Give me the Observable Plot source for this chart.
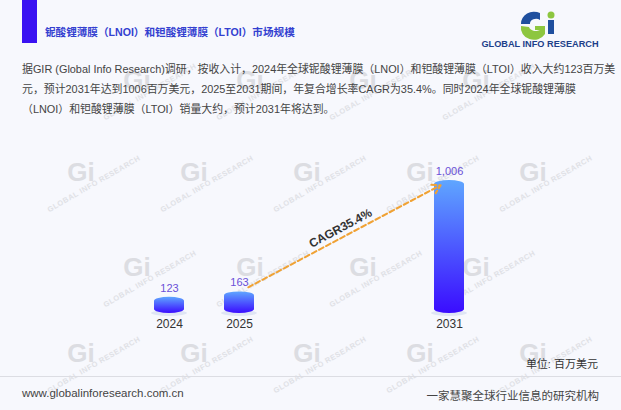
<!DOCTYPE html>
<html><head><meta charset="utf-8">
<script src="https://cdn.jsdelivr.net/npm/d3@7"></script>
<script src="https://cdn.jsdelivr.net/npm/@observablehq/plot@0.6"></script>
<style>
body{margin:0;background:#f7f8fd;width:621px;height:410px;overflow:hidden;position:relative;font-family:"Liberation Sans","Noto Sans CJK SC",sans-serif;}
.abs{position:absolute;white-space:nowrap;}
.para{left:22px;font-size:10.9px;color:#444;}
</style></head><body>
<svg id="wm" class="abs" style="left:0;top:0" width="621" height="410"></svg>
<div class="abs" style="left:22px;top:0;width:15px;height:43px;background:#3a12f2"></div>
<div class="abs" style="left:45px;top:24px;font-size:10.6px;font-weight:bold;color:#3340d0">铌酸锂薄膜（LNOI）和钽酸锂薄膜（LTOI）市场规模</div>
<svg class="abs" style="left:478px;top:4px" width="125" height="46" viewBox="0 0 125 46">
  <path d="M62 9 A13 12 0 0 0 43 20 L52 20 A6 5 0 0 1 62 16 Z" fill="#1f4f9e"/>
  <path d="M43 22 A13 12 0 0 0 67 30 L67 22 L57 22 L57 26 L62 26 A7 5 0 0 1 51 23 Z" fill="#8dc63f"/>
  <rect x="70" y="16" width="6" height="14" fill="#1f4f9e"/>
  <circle cx="73" cy="11" r="3.5" fill="#8dc63f"/>
  <text x="62" y="43" text-anchor="middle" font-family="Liberation Sans" font-weight="bold" font-size="9.2" fill="#1d3f8a">GLOBAL INFO RESEARCH</text>
</svg>
<div class="abs para" style="top:60px">据GIR (Global Info Research)调研，按收入计，2024年全球铌酸锂薄膜（LNOI）和钽酸锂薄膜（LTOI）收入大约123百万美</div>
<div class="abs para" style="top:80px">元，预计2031年达到1006百万美元，2025至2031期间，年复合增长率CAGR为35.4%。同时2024年全球铌酸锂薄膜</div>
<div class="abs para" style="top:100px">（LNOI）和钽酸锂薄膜（LTOI）销量大约，预计2031年将达到。</div>
<div id="chart" class="abs" style="left:0;top:140px"></div>
<div class="abs" style="right:23px;top:355px;font-size:11px;color:#333">单位: 百万美元</div>
<div class="abs" style="left:0;top:376px;width:621px;height:1px;background:#dcdde3"></div>
<div class="abs" style="left:22px;top:387px;font-size:11.5px;color:#444">www.globalinforesearch.com.cn</div>
<div class="abs" style="right:22px;top:387px;font-size:11.5px;color:#444">一家慧聚全球行业信息的研究机构</div>
<script>
const years = ["2024", "2025", "2031"];
const values = [123, 163, 1006];
const xSlots = ["2024", "2025", "gap1", "gap2", "2031"];
const cagrFrom = "2025", cagrTo = "2031";
const cagrLabel = "CAGR35.4%";

// decorative watermark (only those fully inside the picture)
const wm = d3.select("#wm");
const rows = [{y: 80, x0: 24}, {y: 172, x0: 81}, {y: 267, x0: 24}, {y: 353, x0: 81}];
rows.forEach(r => {
  for (let x = r.x0; x < 621; x += 113) {
    if (x - 32 < 0 || x + 60 > 621) continue;
    const g = wm.append("g").attr("transform", `translate(${x},${r.y})`).attr("fill", "#dcdde2");
    g.append("text").attr("text-anchor", "middle").attr("y", 9).attr("font-family", "Liberation Sans")
      .attr("font-weight", "bold").attr("font-size", 26).text("Gi");
    g.append("text").attr("text-anchor", "middle").attr("transform", "translate(14,14) rotate(-30)")
      .attr("fill", "#e0e1e6").attr("font-family", "Liberation Sans").attr("font-weight", "bold").attr("font-size", 7.5)
      .attr("letter-spacing", 0.5).text("GLOBAL INFO RESEARCH");
  }
});

const data = years.map((y, i) => ({year: y, value: values[i]}));
const vFrom = values[years.indexOf(cagrFrom)], vTo = values[years.indexOf(cagrTo)];

const plot = Plot.plot({
  width: 621, height: 200,
  marginTop: 40, marginBottom: 27, marginLeft: 114, marginRight: 117,
  x: {type: "band", domain: xSlots, padding: 0.571, label: null, tickSize: 0, tickPadding: 6,
      tickFormat: d => years.includes(d) ? d : ""},
  y: {domain: [0, 1006], axis: null},
  style: {fontSize: "12px", color: "#333", fontFamily: "Liberation Sans, Noto Sans CJK SC, sans-serif", background: "transparent", overflow: "visible"},
  marks: [
    Plot.barY(data, {x: "year", y1: -22, y2: 22, fill: "#dfe5f4", insetLeft: -3, insetRight: -3, rx: 18, ry: 3.5}),
    Plot.barY(data, {x: "year", y: "value", fill: "url(#barGrad)", rx: 15, ry: 4}),
    Plot.text(data, {x: "year", y: "value", text: d => d3.format(",")(d.value), dy: -9, fill: "#6a50d8", fontSize: 11}),
    Plot.arrow([{a: cagrFrom, b: cagrTo, v1: vFrom, v2: vTo}], {x1: "a", y1: "v1", x2: "b", y2: "v2",
      stroke: "#f0a234", strokeWidth: 2, strokeDasharray: "5,3", headLength: 7, insetStart: 10, insetEnd: 10}),
    Plot.text([{x: cagrFrom, y: (vFrom + vTo) / 2}], {x: "x", y: "y", text: () => cagrLabel, rotate: -28,
      dx: 101, dy: -8, fontWeight: "bold", fontSize: 12, fill: "#333"})
  ]
});
const svg = d3.select(plot);
const defs = svg.insert("defs", ":first-child");
const g = defs.append("linearGradient").attr("id", "barGrad").attr("x1", 0).attr("y1", 0).attr("x2", 0).attr("y2", 1);
g.append("stop").attr("offset", "0%").attr("stop-color", "#5fa6ff");
g.append("stop").attr("offset", "100%").attr("stop-color", "#3a0cff");
document.getElementById("chart").append(plot);
</script>
</body></html>
